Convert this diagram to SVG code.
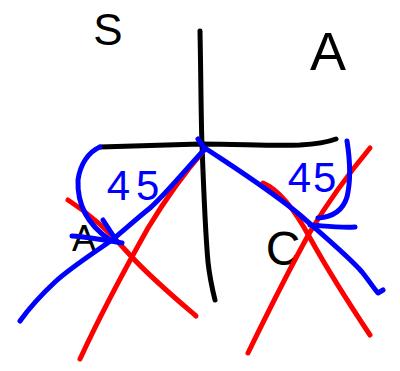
<svg xmlns="http://www.w3.org/2000/svg" width="400" height="371" viewBox="0 0 400 371">
<style>
.s{fill:none;stroke-linecap:round;stroke-linejoin:round;stroke-width:5}
.k{stroke:#000}
.r{stroke:#ff0000}
.b{stroke:#0000ff}
.t{font-family:"Liberation Sans","DejaVu Sans",sans-serif;text-anchor:middle}
.tk{fill:#000}
.tb{fill:#0000ff}
</style>
<rect width="400" height="371" fill="#fff"/>
<g id="labels">
<text class="t tk" x="108" y="45" font-size="44">S</text>
<text class="t tk" x="328" y="70" font-size="54">A</text>
<text class="t tk" x="84" y="251" font-size="36">A</text>
<text class="t tk" x="283" y="265" font-size="48">C</text>
</g>
<g id="axes">
<path class="s k" d="M200,31 C201,80 201,120 202,145 C204,200 206,240 208,262 C210,280 213,292 215,300"/>
<path class="s k" d="M100,147 C140,146 170,145 200,144 C240,144 270,146 300,145 C318,144 328,142 336,139"/>
</g>
<g id="red-lines">
<path class="s r" d="M68,200 C90,214 110,232 130,255 C150,277 175,298 196,316"/>
<path class="s r" d="M205,149 C185,172 165,200 148,228 C130,260 105,305 80,359"/>
<path class="s r" d="M370,148 C350,172 328,202 310,232 C290,268 268,312 248,353"/>
<path class="s r" d="M263,183 C280,190 296,212 310,238 C325,265 350,305 370,335"/>
</g>
<g id="blue-lines">
<path class="s b" d="M100,147 C88,152 80,165 78,180 C77,205 88,225 110,240"/>
<path class="s b" d="M103,220 L116,240 M72,236 C88,237 105,240 122,243"/>
<path class="s b" d="M198,139 L205,149 C185,170 165,195 150,208 C135,220 122,232 112,240 C95,252 70,268 55,282 C40,296 30,307 20,321"/>
<path class="s b" d="M205,148 C235,168 270,190 300,215 C325,237 350,258 362,272 C370,282 375,290 378,293 L383,290"/>
<path class="s b" d="M347,141 C350,160 351,180 347,197 C343,210 333,217 318,218 M310,225 C325,226 340,228 355,227"/>
</g>
<g id="angle-labels">
<text class="t tb" x="136" y="200" font-size="42" letter-spacing="6">45</text>
<text class="t tb" x="313" y="192" font-size="42" letter-spacing="2">45</text>
</g>
</svg>
